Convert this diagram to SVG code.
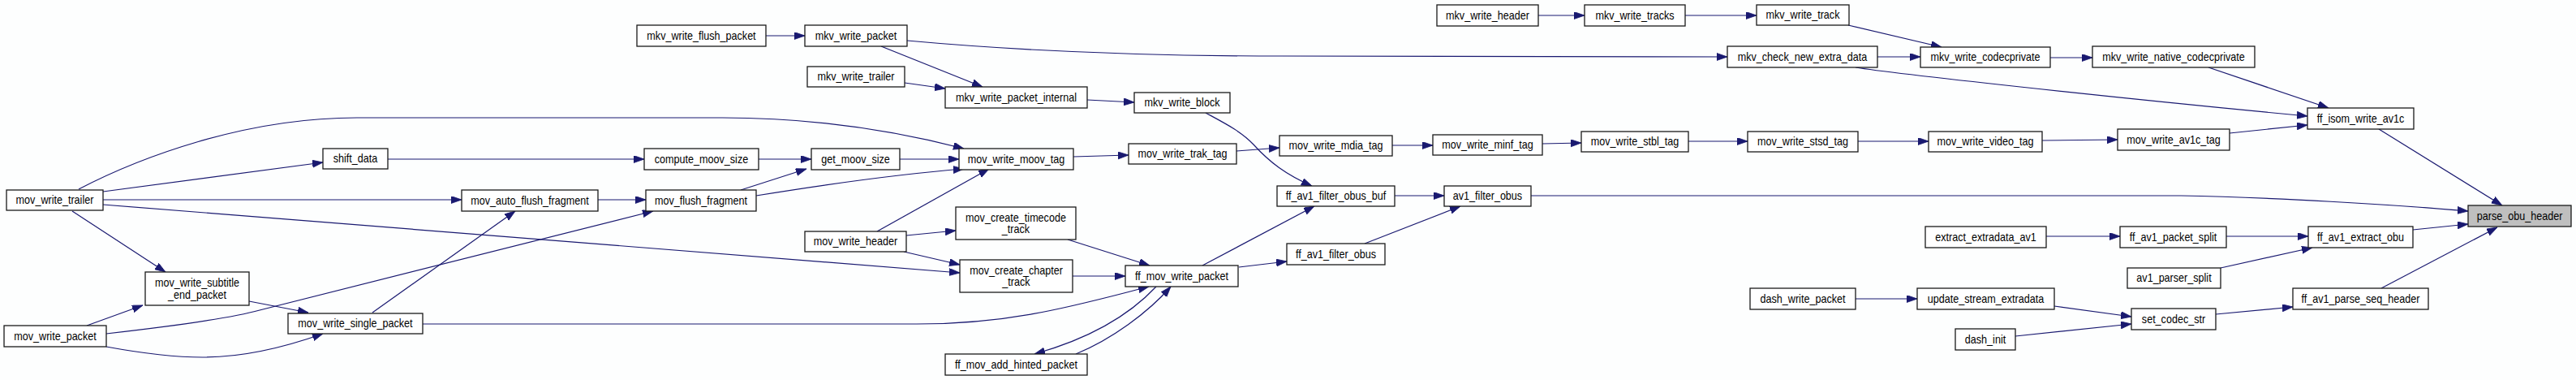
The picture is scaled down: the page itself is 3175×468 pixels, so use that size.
<svg xmlns="http://www.w3.org/2000/svg" width="3175" height="468" viewBox="0 0 3175 468">
<style>
.n rect{fill:#ffffff;stroke:#1a1a1a;stroke-width:1.3}
.n.h rect{fill:#bfbfbf}
.n text{font-family:"Liberation Sans",Arial,sans-serif;font-size:14px;fill:#000;text-anchor:middle;dominant-baseline:central}
#edges path{fill:none;stroke:#191970;stroke-width:1.2;marker-end:url(#ah)}
</style>
<defs>
<marker id="ah" markerUnits="userSpaceOnUse" markerWidth="14" markerHeight="10" refX="13" refY="4.5" orient="auto">
<path d="M0,0 L13,4.5 L0,9 z" fill="#191970" stroke="#191970" stroke-width="0.8"/>
</marker>
</defs>
<rect width="3175" height="468" fill="#fdfefe"/>
<g id="edges">
<path d="M97,233 C170,195 300,145 440,145 L890,145 C1000,145 1100,160 1188,183"/>
<path d="M127,236 L398,200"/>
<path d="M127,246 L569,246"/>
<path d="M127,252 L1183,336"/>
<path d="M89,260 L204,335"/>
<path d="M478,196 L794,196"/>
<path d="M935,196 L1000,196"/>
<path d="M1109,196 L1182,196"/>
<path d="M1323,193 L1391,191"/>
<path d="M1524,186 L1577,182"/>
<path d="M1716,179 L1766,179"/>
<path d="M1901,177 L1949,176"/>
<path d="M2081,174 L2154,174"/>
<path d="M2290,174 L2377,174"/>
<path d="M2517,173 L2610,172"/>
<path d="M2748,164 L2844,154"/>
<path d="M2932,159 L3084,253"/>
<path d="M944,44 L992,44"/>
<path d="M1118,50 C1250,62 1400,69 1580,69 L2129,70"/>
<path d="M1086,57 L1211,107"/>
<path d="M1115,102 L1165,109"/>
<path d="M1340,123 L1398,126"/>
<path d="M1486,139 C1510,152 1530,162 1545,178 C1565,200 1585,215 1617,229"/>
<path d="M1896,19 L1953,19"/>
<path d="M2077,19 L2165,19"/>
<path d="M2278,31 L2393,58"/>
<path d="M2314,70 L2367,70"/>
<path d="M2287,83 C2330,90 2600,120 2844,143"/>
<path d="M2527,71 L2579,71"/>
<path d="M2722,83 L2870,133"/>
<path d="M737,246 L796,246"/>
<path d="M913,234 L994,208"/>
<path d="M932,241 C1000,230 1100,215 1188,208"/>
<path d="M1081,285 L1219,208"/>
<path d="M1117,290 L1178,284"/>
<path d="M1114,310 L1183,326"/>
<path d="M1316,295 L1417,327"/>
<path d="M1322,340 L1387,340"/>
<path d="M1425,353 C1395,385 1350,415 1275,436"/>
<path d="M1326,436 C1370,418 1415,385 1443,353"/>
<path d="M1482,327 L1620,254"/>
<path d="M1527,329 L1586,322"/>
<path d="M521,399 L1130,399 C1250,399 1330,375 1416,353"/>
<path d="M459,385 L635,260"/>
<path d="M307,371 L380,385"/>
<path d="M107,401 L176,376"/>
<path d="M131,411 C210,402 280,393 320,382 L805,260"/>
<path d="M131,427 C180,436 220,440 250,440 C300,440 350,428 398,411"/>
<path d="M1719,241 L1780,241"/>
<path d="M1682,300 L1800,254"/>
<path d="M1887,241 L2688,241 C2800,243 2950,252 3042,260"/>
<path d="M2522,291 L2613,291"/>
<path d="M2744,291 L2845,291"/>
<path d="M2737,330 L2850,305"/>
<path d="M2974,283 L3042,276"/>
<path d="M2935,355 L3078,280"/>
<path d="M2287,368 L2363,368"/>
<path d="M2532,377 L2627,390"/>
<path d="M2484,414 L2627,399"/>
<path d="M2731,387 L2826,378"/>
</g>
<g id="mov_write_trailer" class="n"><rect x="8" y="234" width="119" height="25"/><text transform="translate(67.5,246.5) scale(0.9,1)">mov_write_trailer</text></g>
<g id="shift_data" class="n"><rect x="398" y="183" width="80" height="25"/><text transform="translate(438,195.5) scale(0.9,1)">shift_data</text></g>
<g id="compute_moov_size" class="n"><rect x="794" y="183" width="141" height="26"/><text transform="translate(864.5,196) scale(0.9,1)">compute_moov_size</text></g>
<g id="get_moov_size" class="n"><rect x="1000" y="183" width="109" height="26"/><text transform="translate(1054.5,196) scale(0.9,1)">get_moov_size</text></g>
<g id="mov_write_moov_tag" class="n"><rect x="1182" y="183" width="141" height="26"/><text transform="translate(1252.5,196) scale(0.9,1)">mov_write_moov_tag</text></g>
<g id="mov_write_trak_tag" class="n"><rect x="1391" y="177" width="133" height="25"/><text transform="translate(1457.5,189.5) scale(0.9,1)">mov_write_trak_tag</text></g>
<g id="mov_write_mdia_tag" class="n"><rect x="1577" y="167" width="139" height="25"/><text transform="translate(1646.5,179.5) scale(0.9,1)">mov_write_mdia_tag</text></g>
<g id="mov_write_minf_tag" class="n"><rect x="1766" y="166" width="135" height="25"/><text transform="translate(1833.5,178.5) scale(0.9,1)">mov_write_minf_tag</text></g>
<g id="mov_write_stbl_tag" class="n"><rect x="1949" y="162" width="132" height="25"/><text transform="translate(2015,174.5) scale(0.9,1)">mov_write_stbl_tag</text></g>
<g id="mov_write_stsd_tag" class="n"><rect x="2154" y="162" width="136" height="25"/><text transform="translate(2222,174.5) scale(0.9,1)">mov_write_stsd_tag</text></g>
<g id="mov_write_video_tag" class="n"><rect x="2377" y="162" width="140" height="25"/><text transform="translate(2447,174.5) scale(0.9,1)">mov_write_video_tag</text></g>
<g id="mov_write_av1c_tag" class="n"><rect x="2610" y="159" width="138" height="26"/><text transform="translate(2679,172) scale(0.9,1)">mov_write_av1c_tag</text></g>
<g id="ff_isom_write_av1c" class="n"><rect x="2844" y="133" width="131" height="26"/><text transform="translate(2909.5,146) scale(0.9,1)">ff_isom_write_av1c</text></g>
<g id="parse_obu_header" class="n h"><rect x="3042" y="253" width="127" height="26"/><text transform="translate(3105.5,266) scale(0.9,1)">parse_obu_header</text></g>
<g id="mkv_write_flush_packet" class="n"><rect x="785" y="31" width="159" height="26"/><text transform="translate(864.5,44) scale(0.9,1)">mkv_write_flush_packet</text></g>
<g id="mkv_write_packet" class="n"><rect x="992" y="31" width="126" height="26"/><text transform="translate(1055,44) scale(0.9,1)">mkv_write_packet</text></g>
<g id="mkv_write_trailer" class="n"><rect x="995" y="82" width="120" height="25"/><text transform="translate(1055,94.5) scale(0.9,1)">mkv_write_trailer</text></g>
<g id="mkv_write_packet_internal" class="n"><rect x="1165" y="107" width="175" height="26"/><text transform="translate(1252.5,120) scale(0.9,1)">mkv_write_packet_internal</text></g>
<g id="mkv_write_block" class="n"><rect x="1398" y="114" width="118" height="25"/><text transform="translate(1457,126.5) scale(0.9,1)">mkv_write_block</text></g>
<g id="mkv_write_header" class="n"><rect x="1771" y="6" width="125" height="26"/><text transform="translate(1833.5,19) scale(0.9,1)">mkv_write_header</text></g>
<g id="mkv_write_tracks" class="n"><rect x="1953" y="6" width="124" height="26"/><text transform="translate(2015,19) scale(0.9,1)">mkv_write_tracks</text></g>
<g id="mkv_write_track" class="n"><rect x="2165" y="6" width="114" height="25"/><text transform="translate(2222,18.5) scale(0.9,1)">mkv_write_track</text></g>
<g id="mkv_check_new_extra_data" class="n"><rect x="2129" y="57" width="185" height="26"/><text transform="translate(2221.5,70) scale(0.9,1)">mkv_check_new_extra_data</text></g>
<g id="mkv_write_codecprivate" class="n"><rect x="2367" y="58" width="160" height="25"/><text transform="translate(2447,70.5) scale(0.9,1)">mkv_write_codecprivate</text></g>
<g id="mkv_write_native_codecprivate" class="n"><rect x="2579" y="57" width="200" height="26"/><text transform="translate(2679,70) scale(0.9,1)">mkv_write_native_codecprivate</text></g>
<g id="mov_auto_flush_fragment" class="n"><rect x="569" y="234" width="168" height="26"/><text transform="translate(653,247) scale(0.9,1)">mov_auto_flush_fragment</text></g>
<g id="mov_flush_fragment" class="n"><rect x="796" y="234" width="136" height="26"/><text transform="translate(864,247) scale(0.9,1)">mov_flush_fragment</text></g>
<g id="mov_write_header" class="n"><rect x="992" y="285" width="125" height="25"/><text transform="translate(1054.5,297.5) scale(0.9,1)">mov_write_header</text></g>
<g id="mov_create_timecode_track" class="n"><rect x="1178" y="255" width="148" height="40"/><text transform="translate(1252,268) scale(0.9,1)">mov_create_timecode</text><text transform="translate(1252,282) scale(0.9,1)">_track</text></g>
<g id="mov_create_chapter_track" class="n"><rect x="1183" y="320" width="139" height="40"/><text transform="translate(1252.5,333) scale(0.9,1)">mov_create_chapter</text><text transform="translate(1252.5,347) scale(0.9,1)">_track</text></g>
<g id="ff_mov_write_packet" class="n"><rect x="1387" y="327" width="139" height="26"/><text transform="translate(1456.5,340) scale(0.9,1)">ff_mov_write_packet</text></g>
<g id="ff_mov_add_hinted_packet" class="n"><rect x="1165" y="436" width="175" height="26"/><text transform="translate(1252.5,449) scale(0.9,1)">ff_mov_add_hinted_packet</text></g>
<g id="mov_write_subtitle_end_packet" class="n"><rect x="179" y="335" width="128" height="41"/><text transform="translate(243,348.5) scale(0.9,1)">mov_write_subtitle</text><text transform="translate(243,363) scale(0.9,1)">_end_packet</text></g>
<g id="mov_write_single_packet" class="n"><rect x="355" y="386" width="166" height="25"/><text transform="translate(438,398.5) scale(0.9,1)">mov_write_single_packet</text></g>
<g id="mov_write_packet" class="n"><rect x="5" y="401" width="126" height="26"/><text transform="translate(68,414) scale(0.9,1)">mov_write_packet</text></g>
<g id="ff_av1_filter_obus_buf" class="n"><rect x="1574" y="229" width="145" height="25"/><text transform="translate(1646.5,241.5) scale(0.9,1)">ff_av1_filter_obus_buf</text></g>
<g id="av1_filter_obus" class="n"><rect x="1780" y="229" width="107" height="25"/><text transform="translate(1833.5,241.5) scale(0.9,1)">av1_filter_obus</text></g>
<g id="ff_av1_filter_obus" class="n"><rect x="1586" y="300" width="121" height="26"/><text transform="translate(1646.5,313) scale(0.9,1)">ff_av1_filter_obus</text></g>
<g id="extract_extradata_av1" class="n"><rect x="2373" y="279" width="149" height="26"/><text transform="translate(2447.5,292) scale(0.9,1)">extract_extradata_av1</text></g>
<g id="ff_av1_packet_split" class="n"><rect x="2613" y="279" width="131" height="26"/><text transform="translate(2678.5,292) scale(0.9,1)">ff_av1_packet_split</text></g>
<g id="ff_av1_extract_obu" class="n"><rect x="2845" y="279" width="129" height="26"/><text transform="translate(2909.5,292) scale(0.9,1)">ff_av1_extract_obu</text></g>
<g id="av1_parser_split" class="n"><rect x="2622" y="330" width="115" height="25"/><text transform="translate(2679.5,342.5) scale(0.9,1)">av1_parser_split</text></g>
<g id="dash_write_packet" class="n"><rect x="2157" y="355" width="130" height="26"/><text transform="translate(2222,368) scale(0.9,1)">dash_write_packet</text></g>
<g id="update_stream_extradata" class="n"><rect x="2363" y="355" width="169" height="26"/><text transform="translate(2447.5,368) scale(0.9,1)">update_stream_extradata</text></g>
<g id="set_codec_str" class="n"><rect x="2627" y="380" width="104" height="26"/><text transform="translate(2679,393) scale(0.9,1)">set_codec_str</text></g>
<g id="dash_init" class="n"><rect x="2410" y="405" width="74" height="26"/><text transform="translate(2447,418) scale(0.9,1)">dash_init</text></g>
<g id="ff_av1_parse_seq_header" class="n"><rect x="2826" y="355" width="167" height="26"/><text transform="translate(2909.5,368) scale(0.9,1)">ff_av1_parse_seq_header</text></g>
</svg>
